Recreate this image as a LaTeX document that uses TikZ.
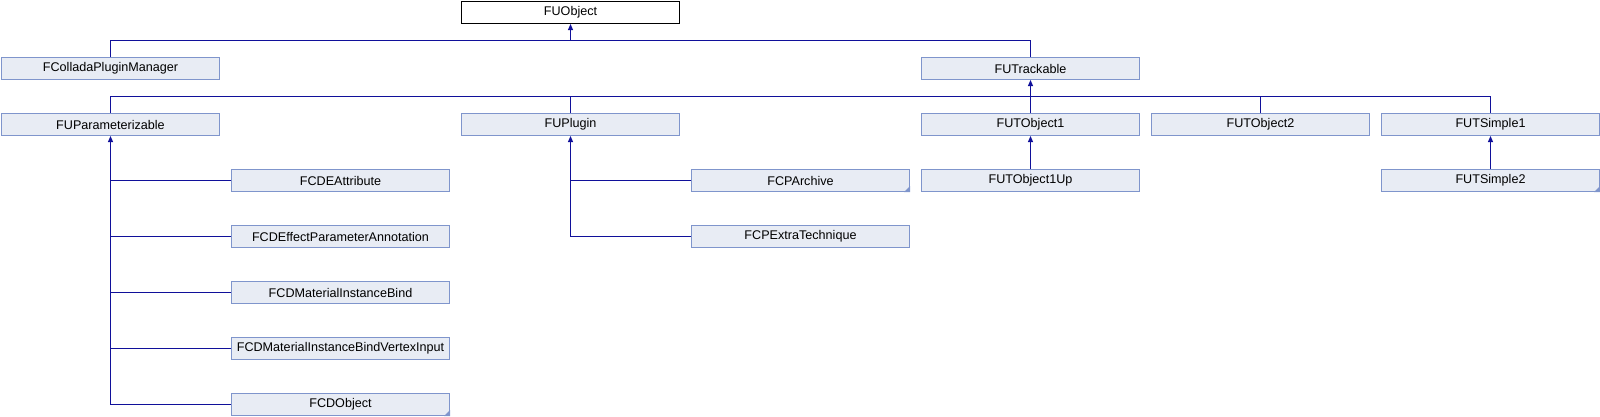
\documentclass[tikz,border=0pt]{standalone}
\usepackage{fontspec}
\setmainfont{Liberation Sans}
\usetikzlibrary{arrows.meta}
\definecolor{boxfill}{HTML}{E8ECF4}
\definecolor{boxline}{HTML}{7F95CC}
\definecolor{edgecol}{HTML}{10109A}
\tikzset{
  cls/.style={draw=boxline, fill=boxfill, line width=1pt, minimum width=218pt,
    minimum height=22pt, inner sep=0pt, font=\fontsize{12.6}{14}\selectfont},
  rootcls/.style={cls, fill=white, draw=black},
  conn/.style={draw=edgecol, line width=1pt},
  inh/.style={conn, -{Triangle[width=5pt,length=6pt]}},
  inhrev/.style={conn, {Triangle[width=5pt,length=6pt]}-},
}
\begin{document}
\begin{tikzpicture}[x=1pt,y=-1pt]
\useasboundingbox (0,0) rectangle (1600,416);
% row 0
\node[rootcls] (fuo) at (570.5,12.5) {FUObject};
% row 1
\node[cls] (fcm) at (110.5,68.5) {FColladaPluginManager};
\node[cls] (fut) at (1030.5,68.5) {FUTrackable};
% row 2
\node[cls] (fupar) at (110.5,124.5) {FUParameterizable};
\node[cls] (fuplug) at (570.5,124.5) {FUPlugin};
\node[cls] (fuo1) at (1030.5,124.5) {FUTObject1};
\node[cls] (fuo2) at (1260.5,124.5) {FUTObject2};
\node[cls] (fus1) at (1490.5,124.5) {FUTSimple1};
% row 3
\node[cls] (fcdattr) at (340.5,180.5) {FCDEAttribute};
\node[cls] (fcparch) at (800.5,180.5) {FCPArchive};
\node[cls] (fuo1up) at (1030.5,180.5) {FUTObject1Up};
\node[cls] (fus2) at (1490.5,180.5) {FUTSimple2};
% row 4
\node[cls] (fcdepa) at (340.5,236.5) {FCDEffectParameterAnnotation};
\node[cls] (fcpext) at (800.5,236.5) {FCPExtraTechnique};
% rows 5-7
\node[cls] (fcdmib) at (340.5,292.5) {FCDMaterialInstanceBind};
\node[cls] (fcdmibv) at (340.5,348.5) {FCDMaterialInstanceBindVertexInput};
\node[cls] (fcdobj) at (340.5,404.5) {FCDObject};
% corner marks
\foreach \n in {fcparch,fcdobj,fus2}
  \fill[boxline] (\n.south east) -- ++(-6,0) -- ++(6,-6) -- cycle;
% FUObject children
\coordinate (j0) at (fuo.south |- 0,40.5);
\draw[conn] (fcm.north) |- (j0) -| (fut.north);
\draw[inh] (j0) -- (fuo.south);
% FUTrackable children
\coordinate (j1) at (fut.south |- 0,96.5);
\draw[conn] (fupar.north) |- (j1) -| (fus1.north);
\draw[conn] (fuplug.north) -- (fuplug.north |- j1);
\draw[conn] (fuo2.north) -- (fuo2.north |- j1);
\draw[conn] (fuo1.north) -- (j1);
\draw[inh] (j1) -- (fut.south);
% FUParameterizable children
\draw[inhrev] (fupar.south) |- (fcdobj.west);
\foreach \n in {fcdattr,fcdepa,fcdmib,fcdmibv}
  \draw[conn] (\n.west) -- (\n.west -| fupar.south);
% FUPlugin children
\draw[inhrev] (fuplug.south) |- (fcpext.west);
\draw[conn] (fcparch.west) -- (fcparch.west -| fuplug.south);
% single-child links
\draw[inh] (fuo1up.north) -- (fuo1.south);
\draw[inh] (fus2.north) -- (fus1.south);
\end{tikzpicture}
\end{document}
